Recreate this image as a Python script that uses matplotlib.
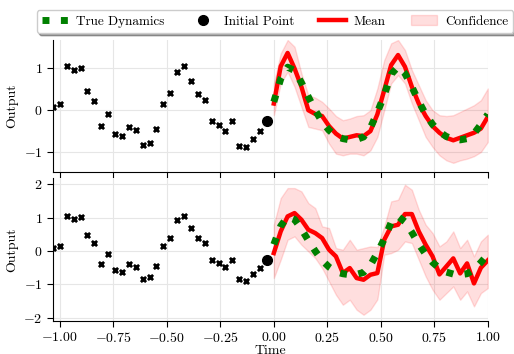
import numpy as np
import matplotlib
matplotlib.use("Agg")
import matplotlib.pyplot as plt

plt.rcParams["font.family"] = "serif"
plt.rcParams["font.serif"] = ["cmr10"]
plt.rcParams["mathtext.fontset"] = "cm"
plt.rcParams["axes.formatter.use_mathtext"] = True
plt.rcParams["font.size"] = 10

# observed history (31 points) and the initial point
obs_t = np.arange(-32, -1) / 31
obs_y = [0.08, 0.16, 1.06, 0.97, 1.02, 0.47, 0.23, -0.39, -0.08, -0.56, -0.62,
         -0.40, -0.48, -0.84, -0.79, -0.45, 0.15, 0.40, 0.92, 1.06, 0.69, 0.38,
         0.24, -0.26, -0.36, -0.49, -0.26, -0.85, -0.89, -0.68, -0.50]
init_t = -1 / 31
init_y = -0.26

# prediction grid
pred_t = np.linspace(0, 1, 32)
true_y = [0.20, 0.75, 1.03, 0.95, 0.66, 0.32, 0.0, -0.28, -0.48, -0.62, -0.68,
          -0.71, -0.70, -0.64, -0.42, -0.05, 0.36, 0.86, 1.04, 0.88, 0.56, 0.21,
          -0.10, -0.34, -0.52, -0.63, -0.69, -0.71, -0.68, -0.56, -0.34, -0.10]

# model 1 (top)
mean1 = [0.16, 1.05, 1.37, 1.0, 0.56, 0.0, -0.09, -0.14, -0.38, -0.56, -0.68,
         -0.64, -0.60, -0.62, -0.50, -0.10, 0.48, 1.08, 1.32, 1.04, 0.56, 0.16,
         -0.14, -0.38, -0.54, -0.66, -0.72, -0.66, -0.60, -0.54, -0.44, -0.16]
upper1 = [0.64, 1.36, 1.68, 1.52, 0.88, 0.36, 0.30, 0.20, 0.04, -0.14, -0.24,
          -0.20, -0.14, -0.12, 0.0, 0.52, 1.20, 1.60, 1.68, 1.44, 0.96, 0.60,
          0.24, 0.0, -0.12, -0.14, -0.12, -0.04, 0.04, 0.12, 0.24, 0.52]
lower1 = [-0.12, 0.64, 0.92, 0.56, 0.08, -0.40, -0.44, -0.48, -0.80, -1.04, -1.08,
          -1.04, -1.04, -1.08, -0.96, -0.64, 0.0, 0.64, 0.84, 0.64, 0.16, -0.24,
          -0.64, -0.88, -1.08, -1.20, -1.26, -1.20, -1.16, -1.10, -1.00, -0.76]

# model 2 (bottom)
mean2 = [-0.06, 0.59, 1.04, 1.14, 0.94, 0.64, 0.54, 0.39, 0.04, -0.16, -0.66,
         -0.51, -0.81, -0.86, -0.71, -0.66, 0.34, 0.74, 0.79, 1.11, 1.11, 0.59,
         0.19, -0.16, -0.70, -0.46, -0.22, -0.67, -0.37, -0.97, -0.50, -0.28]
upper2 = [0.79, 1.59, 1.89, 1.89, 1.79, 1.44, 1.29, 0.74, 0.69, 0.09, 0.04,
          0.34, 0.04, 0.09, 0.14, 0.12, 0.74, 1.49, 1.54, 1.99, 1.84, 1.24,
          0.79, 0.54, 0.14, 0.29, 0.59, 0.09, 0.34, -0.16, 0.29, 0.49]
lower2 = [-0.81, -0.26, 0.34, 0.44, 0.19, -0.01, -0.21, -0.51, -0.91, -1.31, -1.61,
          -1.46, -1.76, -1.91, -1.76, -1.45, -0.11, -0.06, 0.04, 0.29, 0.24, -0.26,
          -0.76, -1.16, -1.46, -1.26, -1.06, -1.46, -1.21, -1.66, -1.26, -1.11]

fig = plt.figure(figsize=(5.14, 3.54), dpi=100)
ax1 = fig.add_axes([0.103, 0.514, 0.846, 0.373])
ax2 = fig.add_axes([0.103, 0.093, 0.846, 0.404], sharex=ax1)

panels = [(ax1, mean1, upper1, lower1, (-1.48, 1.68), [-1, 0, 1]),
          (ax2, mean2, upper2, lower2, (-2.1, 2.19), [-2, -1, 0, 1, 2])]

for ax, mean, upper, lower, ylim, yticks in panels:
    ax.grid(True, color="#e6e6e6", lw=0.8)
    ax.set_axisbelow(True)
    ax.scatter(obs_t, obs_y, marker="x", s=14, lw=2, color="black", zorder=3)
    ax.fill_between(pred_t, lower, upper, color="red", alpha=0.13,
                    label="Confidence", zorder=2)
    ax.plot(pred_t, true_y, ls=":", lw=5, color="green",
            label="True Dynamics", zorder=5)
    ax.plot(pred_t, mean, color="red", lw=3.2, label="Mean", zorder=4)
    ax.plot(init_t, init_y, "o", color="black", ms=7,
            label="Initial Point", zorder=6)
    ax.set_ylim(*ylim)
    ax.set_yticks(yticks)
    ax.set_ylabel("Output")
    ax.spines["top"].set_visible(False)
    ax.spines["right"].set_visible(False)
    ax.tick_params(direction="out", length=4)

ax1.set_xlim(-32 / 31, 1.0)
ax1.set_xticks([-1.0, -0.75, -0.5, -0.25, 0.0, 0.25, 0.5, 0.75, 1.0])
ax1.tick_params(labelbottom=False)
ax2.set_xlabel("Time", labelpad=-0.5)

handles, labels = ax1.get_legend_handles_labels()
order = [labels.index(n) for n in ["True Dynamics", "Initial Point", "Mean", "Confidence"]]
fig.legend([handles[i] for i in order], [labels[i] for i in order],
           loc="upper center", bbox_to_anchor=(0.535, 0.99), ncol=4,
           fontsize=9.5, shadow=True, fancybox=True,
           columnspacing=1.9, handletextpad=0.6)

fig.savefig("out.png", dpi=100)
